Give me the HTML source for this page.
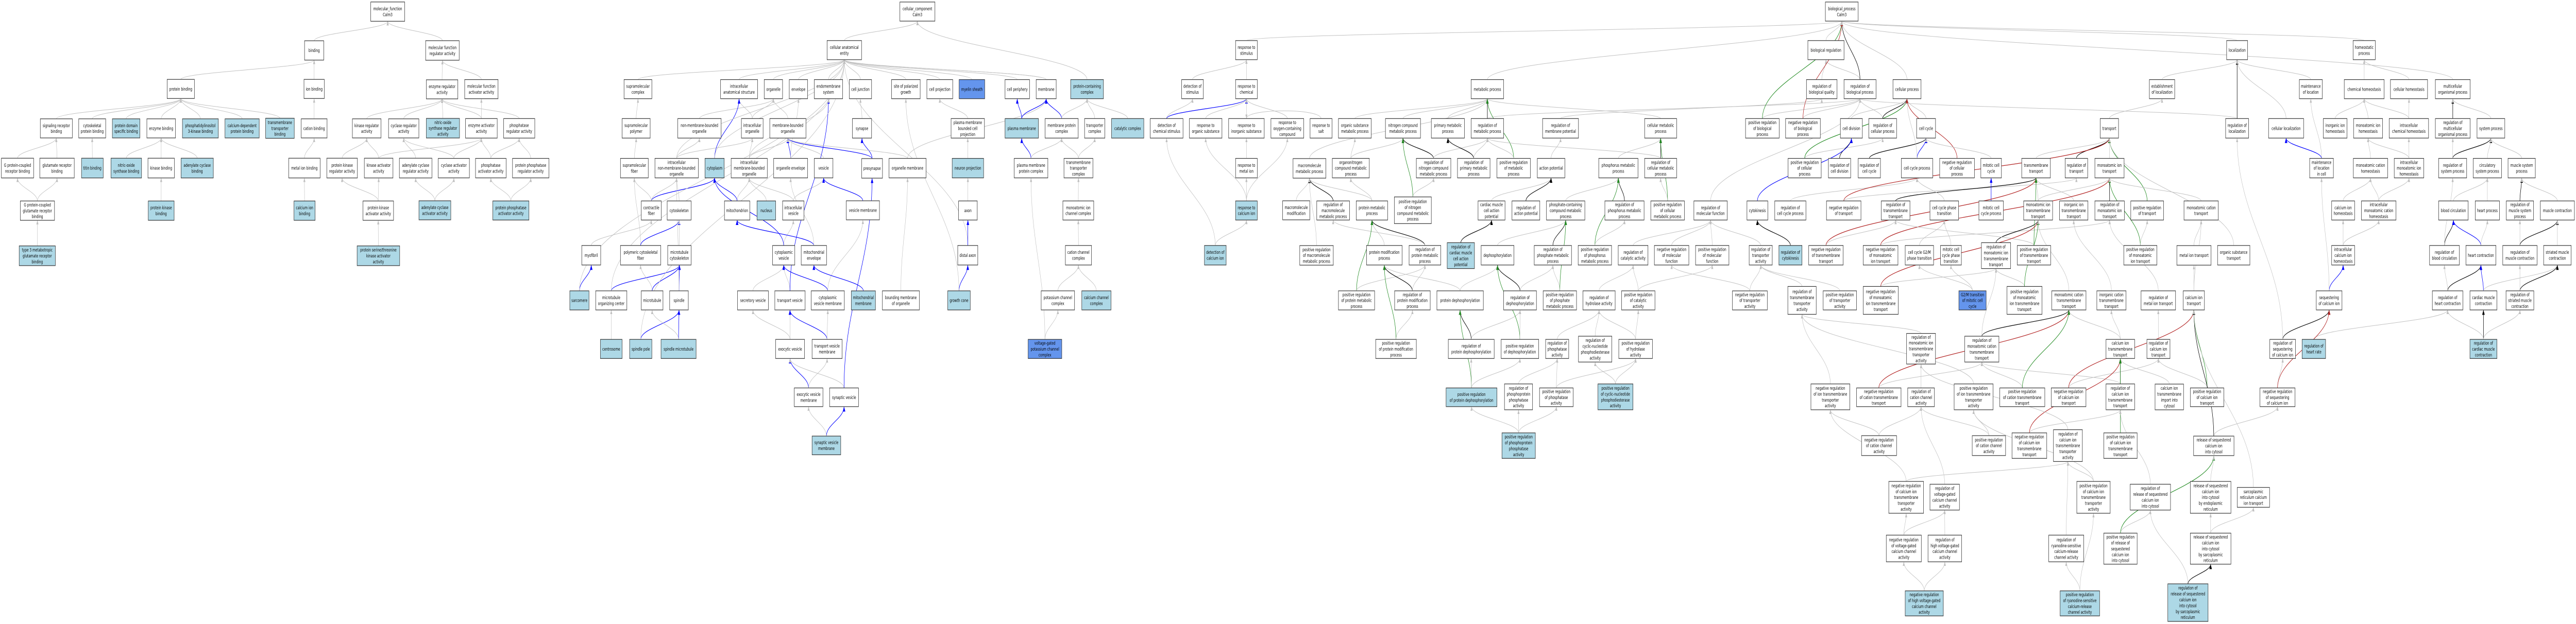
<!DOCTYPE html>
<html><head><meta charset="utf-8"><style>
html,body{margin:0;padding:0;background:#fff;width:100%;height:100%;overflow:hidden}
svg{display:block;width:100vw;height:100vh}
text{font-family:"DejaVu Sans","Liberation Sans",sans-serif;font-size:9px;fill:#000}
</style></head><body>
<svg id="g" xmlns="http://www.w3.org/2000/svg" viewBox="0 0 7680 1212" preserveAspectRatio="none">
<defs>
<marker id="m0" viewBox="0 0 10 10" refX="10" refY="5" markerWidth="8" markerHeight="8" orient="auto-start-reverse"><path d="M0,1L10,5L0,9z" fill="#c0c0c0"/></marker>
<marker id="m1" viewBox="0 0 10 10" refX="10" refY="5" markerWidth="8" markerHeight="8" orient="auto-start-reverse"><path d="M0,1L10,5L0,9z" fill="#0000ff"/></marker>
<marker id="m2" viewBox="0 0 10 10" refX="10" refY="5" markerWidth="8" markerHeight="8" orient="auto-start-reverse"><path d="M0,1L10,5L0,9z" fill="#000"/></marker>
<marker id="m3" viewBox="0 0 10 10" refX="10" refY="5" markerWidth="8" markerHeight="8" orient="auto-start-reverse"><path d="M0,1L10,5L0,9z" fill="#228b22"/></marker>
<marker id="m4" viewBox="0 0 10 10" refX="10" refY="5" markerWidth="8" markerHeight="8" orient="auto-start-reverse"><path d="M0,1L10,5L0,9z" fill="#b22222"/></marker>
</defs>
<g id="E"></g><g id="N"></g>
</svg>
<script>
const Z={0:[0,1,1],1:[0,1.206,2.613],4:[1300,1.206,1.294],5:[2600,1.206,1.294],6:[3900,1.206,1.294],7:[5200,1.206,1.294],8:[6500,1.329,1.294]};
const F={w:'#ffffff',b:'#add8e6',d:'#6495ed'};
const R=[
['MF',1,1333,10,1455,108,'molecular_function|Calm3'],
['binding',1,1095,207,1164,305,'binding'],
['molreg',0,1269,79,1369,117,'molecular function|regulator activity'],
['pb',1,601,403,699,500,'protein binding'],
['ionb',1,1093,403,1166,500,'ion binding'],
['enzreg',0,1271,155,1365,192,'enzyme regulator|activity'],
['srb',1,145,603,260,700,'signaling receptor|binding'],
['cpb',1,283,603,380,700,'cytoskeletal|protein binding'],
['pdsb',1,404,603,503,700,'protein domain|specific binding','b'],
['eb',1,528,603,631,700,'enzyme binding'],
['pi3k',1,656,603,785,700,'phosphatidylinositol|3-kinase binding','b'],
['cdpb',1,809,603,932,700,'calcium-dependent|protein binding','b'],
['ttb',1,955,600,1058,702,'transmembrane|transporter|binding','b'],
['cationb',1,1083,603,1176,700,'cation binding'],
['kra',1,1267,603,1370,700,'kinase regulator|activity'],
['cra',1,1397,603,1506,700,'cyclase regulator|activity'],
['nosra',0,1271,230,1370,268,'nitric-oxide|synthase regulator|activity','b'],
['gpcrb',1,5,803,121,903,'G protein-coupled|receptor binding'],
['glurb',1,143,803,267,903,'glutamate receptor|binding'],
['titin',1,293,803,371,903,'titin binding','b'],
['nosb',1,399,803,509,903,'nitric-oxide|synthase binding','b'],
['kb',1,532,803,627,903,'kinase binding'],
['acb',1,651,803,767,903,'adenylate cyclase|binding','b'],
['mib',1,1038,803,1151,903,'metal ion binding'],
['pkra',1,1175,803,1285,903,'protein kinase|regulator activity'],
['kaa',1,1310,803,1413,903,'kinase activator|activity'],
['acra',1,1436,803,1553,903,'adenylate cyclase|regulator activity'],
['gpcglu',1,73,1020,196,1118,'G protein-coupled|glutamate receptor|binding'],
['pkb',1,533,1020,626,1118,'protein kinase|binding','b'],
['cib',1,1057,1020,1133,1118,'calcium ion|binding','b'],
['pkaa',1,1305,1020,1415,1118,'protein kinase|activator activity'],
['acaa',0,1249,390,1344,427,'adenylate cyclase|activator activity','b'],
['t3',1,69,1248,199,1348,'type 3 metabotropic|glutamate receptor|binding','b'],
['stkaa',1,1284,1248,1437,1348,'protein serine/threonine|kinase activator|activity','b'],
['mfaa',4,103,200,223,248,'molecular function|activator activity'],
['eaa',4,106,298,220,347,'enzyme activator|activity'],
['phra',4,243,298,355,347,'phosphatase|regulator activity'],
['caa',4,8,398,120,447,'cyclase activator|activity'],
['phaa',4,142,398,252,447,'phosphatase|activator activity'],
['ppra',4,275,398,406,447,'protein phosphatase|regulator activity'],
['ppaa',4,204,505,334,553,'protein phosphatase|activator activity','b'],
['CC',5,100,5,226,53,'cellular_component|Calm3'],
['cae',4,1406,102,1530,150,'cellular anatomical|entity'],
['supc',4,676,200,776,248,'supramolecular|complex'],
['ias',4,1023,200,1156,248,'intracellular|anatomical structure'],
['org',4,1180,200,1246,248,'organelle'],
['env',4,1270,200,1336,248,'envelope'],
['ems',4,1360,200,1462,248,'endomembrane|system'],
['cj',4,1486,200,1566,248,'cell junction'],
['spol',4,669,298,770,347,'supramolecular|polymer'],
['nmbo',4,869,298,1025,347,'non-membrane-bounded|organelle'],
['io',4,1098,298,1176,347,'intracellular|organelle'],
['mbo',4,1200,298,1330,347,'membrane-bounded|organelle'],
['syn',4,1497,298,1566,347,'synapse'],
['sfib',4,663,398,763,447,'supramolecular|fiber'],
['inmbo',4,787,398,943,447,'intracellular|non-membrane-bounded|organelle'],
['cyto',4,967,398,1036,447,'cytoplasm','b'],
['imbo',4,1061,398,1191,447,'intracellular|membrane-bounded|organelle'],
['oenv',4,1214,398,1336,447,'organelle envelope'],
['ves',4,1360,398,1427,447,'vesicle'],
['presyn',0,2569,308,2631,346,'presynapse'],
['om',5,61,398,194,447,'organelle membrane'],
['cfib',4,738,505,810,553,'contractile|fiber'],
['csk',4,831,505,917,553,'cytoskeleton'],
['mito',4,1037,505,1128,553,'mitochondrion'],
['nuc',4,1154,505,1221,553,'nucleus','b'],
['ivs',4,1246,505,1323,553,'intracellular|vesicle'],
['vm',0,2523,390,2622,427,'vesicle membrane'],
['myo',4,524,617,592,666,'myofibril'],
['pcf',4,663,617,808,666,'polymeric cytoskeletal|fiber'],
['mtc',4,833,617,917,666,'microtubule|cytoskeleton'],
['cv',4,1210,617,1290,666,'cytoplasmic|vesicle'],
['menv',4,1313,617,1404,666,'mitochondrial|envelope'],
['sarc',4,481,731,550,779,'sarcomere','b'],
['mtoc',4,574,731,686,779,'microtubule|organizing center'],
['mt',4,738,731,816,779,'microtubule'],
['spin',4,840,731,907,779,'spindle'],
['secv',4,1084,731,1195,779,'secretory vesicle'],
['tv',4,1218,731,1327,779,'transport vesicle'],
['cvm',4,1349,731,1468,779,'cytoplasmic|vesicle membrane'],
['mm',0,2538,565,2610,602,'mitochondrial|membrane','b'],
['bmo',5,37,731,170,779,'bounding membrane|of organelle'],
['centr',4,591,853,669,901,'centrosome','b'],
['spp',4,696,853,776,901,'spindle pole','b'],
['smt',4,809,853,935,901,'spindle microtubule','b'],
['exv',4,1221,853,1325,901,'exocytic vesicle'],
['tvm',4,1352,853,1460,901,'transport vesicle|membrane'],
['exvm',4,1288,975,1391,1022,'exocytic vesicle|membrane'],
['sv',4,1415,975,1519,1022,'synaptic vesicle'],
['svm',4,1352,1096,1455,1143,'synaptic vesicle|membrane','b'],
['spg',5,70,200,173,248,'site of polarized|growth'],
['cp',5,197,200,290,248,'cell projection'],
['mye',5,313,200,405,248,'myelin sheath','d'],
['cper',5,478,200,566,248,'cell periphery'],
['mem',5,590,200,662,248,'membrane'],
['pcc',5,714,200,832,248,'protein-containing|complex','b'],
['pmbcp',5,284,298,404,347,'plasma membrane|bounded cell|projection'],
['pm',5,478,298,598,347,'plasma membrane','b'],
['mpc',5,622,298,741,347,'membrane protein|complex'],
['tc',5,764,298,837,347,'transporter|complex'],
['catc',5,861,298,977,347,'catalytic complex','b'],
['np',5,288,398,401,447,'neuron projection','b'],
['pmpc',5,511,398,632,447,'plasma membrane|protein complex'],
['ttc',5,690,398,794,447,'transmembrane|transporter|complex'],
['axon',5,311,505,378,553,'axon'],
['mic',5,686,505,797,553,'monoatomic ion|channel complex'],
['dax',5,308,617,380,666,'distal axon'],
['ccc',5,695,617,789,666,'cation channel|complex'],
['gc',5,272,731,353,779,'growth cone','b'],
['kcc',5,608,731,728,779,'potassium channel|complex'],
['cacc',5,754,731,859,779,'calcium channel|complex','b'],
['vgk',5,561,853,682,901,'voltage-gated|potassium channel|complex','d'],
['rts',5,1307,102,1385,150,'response to|stimulus'],
['dos',5,1113,200,1191,248,'detection of|stimulus'],
['rtc',5,1307,200,1385,248,'response to|chemical'],
['dcs',5,1000,298,1118,347,'detection of|chemical stimulus'],
['ros',5,1141,298,1258,347,'response to|organic substance'],
['ris',5,1282,298,1410,347,'response to|inorganic substance'],
['rox',5,1434,298,1552,347,'response to|oxygen-containing|compound'],
['rmi',5,1307,398,1385,447,'response to|metal ion'],
['mmp',0,3855,308,3953,346,'macromolecule|metabolic process'],
['rci',5,1307,505,1385,553,'response to|calcium ion','b'],
['mmod',0,3824,390,3905,427,'macromolecule|modification'],
['dci',5,1195,617,1273,666,'detection of|calcium ion','b'],
['prmmp',0,3875,477,3975,515,'positive regulation|of macromolecule|metabolic process'],
['metab',6,586,200,703,248,'metabolic process'],
['salt',6,7,298,86,347,'response to|salt'],
['osmp',6,109,298,227,347,'organic substance|metabolic process'],
['ncmp',6,278,298,404,347,'nitrogen compound|metabolic process'],
['pmp',6,443,298,562,347,'primary metabolic|process'],
['rmp',6,586,298,703,347,'regulation of|metabolic process'],
['rmpot',6,843,298,972,347,'regulation of|membrane potential'],
['cmp',6,1210,298,1325,347,'cellular metabolic|process'],
['oncmp',6,87,398,220,447,'organonitrogen|compound metabolic|process'],
['rncmp',6,389,398,513,447,'regulation of|nitrogen compound|metabolic process'],
['rpmp',6,537,398,654,447,'regulation of|primary metabolic|process'],
['prmp',6,679,398,799,447,'positive regulation|of metabolic|process'],
['ap',6,824,398,923,447,'action potential'],
['phmp',6,1045,398,1186,447,'phosphorus metabolic|process'],
['rcmp',6,1210,398,1325,447,'regulation of|cellular metabolic|process'],
['rmmp',6,31,505,149,553,'regulation of|macromolecule|metabolic process'],
['protmp',6,173,505,286,553,'protein metabolic|process'],
['prncmp',6,310,495,443,562,'positive regulation|of nitrogen|compound metabolic|process'],
['camcap',6,611,505,708,553,'cardiac muscle|cell action|potential'],
['rap',6,733,505,833,553,'regulation of|action potential'],
['pcmp',6,857,505,995,553,'phosphate-containing|compound metabolic|process'],
['rphmp',6,1067,505,1208,553,'regulation of|phosphorus metabolic|process'],
['prcmp',6,1232,505,1353,553,'positive regulation|of cellular|metabolic process'],
['rmf',6,1387,505,1507,553,'regulation of|molecular function'],
['pmodp',6,210,617,338,666,'protein modification|process'],
['rprotmp',6,363,617,477,666,'regulation of|protein metabolic|process'],
['rcmcap',6,500,610,598,675,'regulation of|cardiac muscle|cell action|potential','b'],
['dephos',6,622,617,740,666,'dephosphorylation'],
['rphamp',6,813,617,947,666,'regulation of|phosphate metabolic|process'],
['prphmp',6,971,617,1091,666,'positive regulation|of phosphorus|metabolic process'],
['rca',6,1115,617,1222,666,'regulation of|catalytic activity'],
['nrmf',6,1245,617,1369,666,'negative regulation|of molecular|function'],
['prmf',6,1393,617,1513,666,'positive regulation|of molecular|function'],
['prprotmp',6,109,731,239,779,'positive regulation|of protein metabolic|process'],
['rpmod',6,311,731,439,779,'regulation of|protein modification|process'],
['pdeph',6,463,731,630,779,'protein dephosphorylation'],
['rdeph',6,703,731,821,779,'regulation of|dephosphorylation'],
['prphamp',6,845,731,965,779,'positive regulation|of phosphate|metabolic process'],
['rha',6,988,731,1104,779,'regulation of|hydrolase activity'],
['prca',6,1127,731,1247,779,'positive regulation|of catalytic|activity'],
['nrta',0,5165,565,5269,602,'negative regulation|of transporter|activity'],
['prpmod',6,243,853,389,901,'positive regulation|of protein modification|process'],
['rpdeph',6,504,853,669,901,'regulation of|protein dephosphorylation'],
['prdeph',6,694,853,829,901,'positive regulation|of dephosphorylation'],
['rpa',6,854,853,937,901,'regulation of|phosphatase|activity'],
['rcnp',6,972,845,1092,910,'regulation of|cyclic-nucleotide|phosphodiesterase|activity'],
['prha',6,1117,853,1238,901,'positive regulation|of hydrolase|activity'],
['prpdeph',6,496,975,679,1022,'positive regulation|of protein dephosphorylation','b'],
['rppa',6,706,965,807,1030,'regulation of|phosphoprotein|phosphatase|activity'],
['prpa',6,832,975,953,1022,'positive regulation|of phosphatase|activity'],
['prcnp',6,1042,965,1168,1030,'positive regulation|of cyclic-nucleotide|phosphodiesterase|activity','b'],
['prppa',6,697,1088,817,1152,'positive regulation|of phosphoprotein|phosphatase|activity','b'],
['BP',7,292,5,410,53,'biological_process|Calm3'],
['breg',7,229,102,359,150,'biological regulation'],
['rbq',7,224,200,334,248,'regulation of|biological quality'],
['rbp',7,359,200,474,248,'regulation of|biological process'],
['cproc',7,535,200,636,248,'cellular process'],
['eloc',7,1457,200,1548,248,'establishment|of localization'],
['prbp',7,5,298,126,347,'positive regulation|of biological|process'],
['nrbp',7,149,298,274,347,'negative regulation|of biological|process'],
['cdiv',7,346,298,425,347,'cell division'],
['rcp',7,448,298,548,347,'regulation of|cellular process'],
['cc',7,620,298,688,347,'cell cycle'],
['trans',7,1280,298,1346,347,'transport'],
['prcp',7,158,398,277,447,'positive regulation|of cellular|process'],
['rcdiv',7,303,398,383,447,'regulation of|cell division'],
['rcc',7,410,398,490,447,'regulation of|cell cycle'],
['ccp',7,565,398,678,447,'cell cycle process'],
['nrcp',7,703,398,828,447,'negative regulation|of cellular|process'],
['mcc',7,851,398,925,447,'mitotic cell|cycle'],
['tmt',7,998,398,1101,447,'transmembrane|transport'],
['rtr',7,1154,398,1235,447,'regulation of|transport'],
['mit',7,1261,398,1366,447,'monoatomic ion|transport'],
['cytok',7,10,505,85,553,'cytokinesis'],
['rccp',7,110,505,222,553,'regulation of|cell cycle process'],
['nrt',7,296,505,420,553,'negative regulation|of transport'],
['rtmt',7,493,505,596,553,'regulation of|transmembrane|transport'],
['cpt',7,668,505,771,553,'cell cycle phase|transition'],
['mccp',7,844,505,932,553,'mitotic cell|cycle process'],
['mitt',7,1005,505,1109,553,'monoatomic ion|transmembrane|transport'],
['iitt',7,1134,505,1236,553,'inorganic ion|transmembrane|transport'],
['rmit',7,1261,505,1367,553,'regulation of|monoatomic ion|transport'],
['prt',7,1390,505,1508,553,'positive regulation|of transport'],
['rta',7,18,617,101,666,'regulation of|transporter|activity'],
['rcyt',7,125,617,208,666,'regulation of|cytokinesis','b'],
['nrtmt',7,232,617,356,666,'negative regulation|of transmembrane|transport'],
['nrmit',7,428,617,553,666,'negative regulation|of monoatomic|ion transport'],
['g2m',7,579,617,681,666,'cell cycle G2/M|phase transition'],
['mccpt',7,706,617,781,666,'mitotic cell|cycle phase|transition'],
['rmitt',7,853,610,958,675,'regulation of|monoatomic ion|transmembrane|transport'],
['prtmt',7,982,617,1102,666,'positive regulation|of transmembrane|transport'],
['prmit',7,1365,617,1484,666,'positive regulation|of monoatomic|ion transport'],
['metal',0,6490,477,6592,515,'metal ion transport'],
['rtta',7,157,720,259,790,'regulation of|transmembrane|transporter|activity'],
['prta',7,284,731,404,779,'positive regulation|of transporter|activity'],
['nrmitt',7,428,720,554,790,'negative regulation|of monoatomic|ion transmembrane|transport'],
['g2mt',7,772,731,870,779,'G2/M transition|of mitotic cell|cycle','d'],
['prmitt',7,945,720,1071,790,'positive regulation|of monoatomic|ion transmembrane|transport'],
['mctt',7,1106,731,1229,779,'monoatomic cation|transmembrane|transport'],
['ictt',7,1268,731,1373,779,'inorganic cation|transmembrane|transport'],
['rmetal',7,1427,731,1551,779,'regulation of|metal ion transport'],
['rmittta',7,584,838,688,915,'regulation of|monoatomic ion|transmembrane|transporter|activity'],
['rmctt',7,793,845,916,910,'regulation of|monoatomic cation|transmembrane|transport'],
['catt',7,1301,853,1404,901,'calcium ion|transmembrane|transport'],
['rcait',7,1448,853,1531,901,'regulation of|calcium ion|transport'],
['nritta',7,240,965,380,1030,'negative regulation|of ion transmembrane|transporter|activity'],
['nrctt',7,404,975,564,1022,'negative regulation|of cation transmembrane|transport'],
['rcca',7,588,975,684,1022,'regulation of|cation channel|activity'],
['pritta',7,755,965,895,1030,'positive regulation|of ion transmembrane|transporter|activity'],
['prctt',7,919,975,1081,1022,'positive regulation|of cation transmembrane|transport'],
['nrcat',7,1104,975,1229,1022,'negative regulation|of calcium ion|transport'],
['rcatt',7,1301,965,1404,1030,'regulation of|calcium ion|transmembrane|transport'],
['catic',0,6425,746,6510,796,'calcium ion|transmembrane|import into|cytosol'],
['nrcca',7,422,1095,548,1145,'negative regulation|of cation channel|activity'],
['prcca',7,820,1095,940,1145,'positive regulation|of cation channel|activity'],
['nrcatt',7,963,1088,1088,1152,'negative regulation|of calcium ion|transmembrane|transport'],
['rcatta',7,1112,1080,1216,1160,'regulation of|calcium ion|transmembrane|transporter|activity'],
['prcatt',7,1293,1088,1413,1152,'positive regulation|of calcium ion|transmembrane|transport'],
['nrcatta',7,520,1210,645,1290,'negative regulation|of calcium ion|transmembrane|transporter|activity'],
['rvgcc',7,668,1217,774,1282,'regulation of|voltage-gated|calcium channel|activity'],
['prcatta',7,1196,1210,1316,1290,'positive regulation|of calcium ion|transmembrane|transporter|activity'],
['rrsci',7,1388,1217,1533,1282,'regulation of|release of sequestered|calcium ion|into cytosol'],
['nrvgcc',7,511,1345,637,1412,'negative regulation|of voltage-gated|calcium channel|activity'],
['rhvgcc',7,661,1345,782,1412,'regulation of|high voltage-gated|calcium channel|activity'],
['rrsc',7,1095,1345,1221,1412,'regulation of|ryanodine-sensitive|calcium-release|channel activity'],
['prrsci',7,1293,1340,1413,1418,'positive regulation|of release of|sequestered|calcium ion|into cytosol'],
['nrhv',7,579,1485,716,1548,'negative regulation|of high voltage-gated|calcium channel|activity','b'],
['prrsc',7,1136,1485,1278,1548,'positive regulation|of ryanodine-sensitive|calcium-release|channel activity','b'],
['rrscisr',0,6463,1134,6583,1207,'regulation of|release of sequestered|calcium ion|into cytosol|by sarcoplasmic|reticulum','b'],
['loc',8,184,102,267,150,'localization'],
['hp',8,685,102,773,150,'homeostatic|process'],
['mloc',8,472,200,563,248,'maintenance|of location'],
['chh',8,650,200,808,248,'chemical homeostasis'],
['cellh',8,833,200,980,248,'cellular homeostasis'],
['mop',8,1011,200,1149,248,'multicellular|organismal process'],
['rloc',8,180,298,271,347,'regulation of|localization'],
['cloc',8,350,298,489,347,'cellular localization'],
['iih',8,567,298,661,347,'inorganic ion|homeostasis'],
['mih',8,687,298,802,347,'monoatomic ion|homeostasis'],
['ich',8,828,298,984,347,'intracellular|chemical homeostasis'],
['rmop',8,1011,298,1149,347,'regulation of|multicellular|organismal process'],
['sysp',8,1176,298,1286,347,'system process'],
['mlic',8,513,398,607,447,'maintenance|of location|in cell'],
['mch',8,686,398,822,447,'monoatomic cation|homeostasis'],
['imih',8,848,398,965,447,'intracellular|monoatomic ion|homeostasis'],
['rsp',8,1024,398,1135,447,'regulation of|system process'],
['csp',8,1161,398,1273,447,'circulatory|system process'],
['msp',8,1299,398,1407,447,'muscle system|process'],
['mct',8,15,505,151,553,'monoatomic cation|transport'],
['cih',8,600,505,691,553,'calcium ion|homeostasis'],
['imch',8,718,505,855,553,'intracellular|monoatomic cation|homeostasis'],
['bc',8,1024,505,1141,553,'blood circulation'],
['hpr',8,1169,505,1265,553,'heart process'],
['rmsp',8,1292,505,1400,553,'regulation of|muscle system|process'],
['mc',8,1427,505,1562,553,'muscle contraction'],
['ost',8,148,617,276,666,'organic substance|transport'],
['icih',8,600,617,691,666,'intracellular|calcium ion|homeostasis'],
['rbc',8,988,617,1106,666,'regulation of|blood circulation'],
['hc',8,1132,617,1251,666,'heart contraction'],
['rmc',8,1278,617,1414,666,'regulation of|muscle contraction'],
['smc',8,1440,617,1549,666,'striated muscle|contraction'],
['cait',8,12,731,96,779,'calcium ion|transport'],
['seq',8,539,731,641,779,'sequestering|of calcium ion'],
['rhc',8,999,731,1120,779,'regulation of|heart contraction'],
['cmc',8,1148,731,1255,779,'cardiac muscle|contraction'],
['rsmc',8,1291,731,1401,779,'regulation of|striated muscle|contraction'],
['rseq',8,355,853,457,901,'regulation of|sequestering|of calcium ion'],
['rhr',8,483,853,576,901,'regulation of|heart rate','b'],
['rcmc',8,1148,853,1255,901,'regulation of|cardiac muscle|contraction','b'],
['prcat',8,40,975,173,1022,'positive regulation|of calcium ion|transport'],
['nrseq',8,316,975,455,1022,'negative regulation|of sequestering|of calcium ion'],
['rsci',8,53,1096,213,1145,'release of sequestered|calcium ion|into cytosol'],
['rsciER',8,40,1210,201,1290,'release of sequestered|calcium ion|into cytosol|by endoplasmic|reticulum'],
['srcit',8,226,1225,354,1275,'sarcoplasmic|reticulum calcium|ion transport'],
['rsciSR',8,40,1340,201,1418,'release of sequestered|calcium ion|into cytosol|by sarcoplasmic|reticulum']
];
const nodes={};
for(const r of R){const t=Z[r[1]];const x1=t[0]+r[2]/t[1],x2=t[0]+r[4]/t[1],y1=r[3]/t[2],y2=r[5]/t[2];
nodes[r[0]]={x1,x2,y1,y2,cx:(x1+x2)/2,label:r[6],fill:F[r[7]||'w']};}
const C={g:['#c0c0c0','m0'],b:['#0000ff','m1'],k:['#000','m2'],G:['#228b22','m3'],r:['#b22222','m4']};
const ES=`binding>MF molreg>MF pb>binding ionb>binding srb>pb cpb>pb pdsb>pb eb>pb pi3k>pb cdpb>pb ttb>pb cationb>ionb gpcrb>srb glurb>srb titin>cpb nosb>eb kb>eb acb>eb mib>cationb gpcglu>gpcrb gpcglu>glurb t3>gpcglu pkb>kb cib>mib kra>enzreg cra>enzreg nosra>enzreg enzreg>molreg mfaa>molreg pkra>kra kaa>kra acra>cra pkaa>pkra pkaa>kaa stkaa>pkaa acaa>acra eaa>enzreg eaa>mfaa phra>enzreg caa>cra caa>eaa phaa>eaa phaa>phra ppra>phra ppaa>phaa ppaa>ppra acaa>caa kaa>eaa
cae>CC pcc>CC supc>cae ias>cae org>cae env>cae ems>cae cj>cae spg>cae cp>cae mye>cae cper>cae mem>cae spol>supc nmbo>org io>ias io>org mbo>org syn>cj sfib>spol inmbo>nmbo inmbo>io cyto>ias:b imbo>io imbo>mbo oenv>mbo:b oenv>env ves>mbo cfib>sfib cfib>cyto:b cfib>inmbo csk>inmbo mito>imbo mito>cyto:b nuc>imbo ivs>imbo ivs>ves vm>ves:b myo>cfib pcf>sfib pcf>csk:b mtc>csk cv>ivs cv>cyto:b menv>mito:b menv>oenv sarc>myo:b mtoc>mtc:b mt>pcf mt>mtc:b spin>mtc:b spin>inmbo secv>cv tv>cv cvm>cv:b cvm>vm mm>menv:b centr>mtoc spp>spin:b smt>spin:b smt>mt exv>secv exv>tv tvm>tv:b tvm>cvm exvm>exv:b exvm>tvm sv>exv svm>sv:b svm>exvm tv>ems:b presyn>syn:b presyn>mbo:b om>mbo om>mem bmo>om sv>presyn:b sarc>cae mtoc>cae spp>cae dax>cae inmbo>cae cyto>cae imbo>ems
pmbcp>cp pm>mem:b pm>cper:b mpc>mem:b mpc>pcc tc>pcc catc>pcc np>pmbcp pmpc>pm:b pmpc>mpc ttc>mpc ttc>tc axon>np mic>ttc dax>axon:b ccc>mic gc>dax:b gc>spg kcc>ccc cacc>ccc vgk>kcc vgk>pmpc mem>cae
rts>BP dos>rts rtc>rts dcs>dos dcs>rtc:b ros>rtc ris>rtc rox>rtc rmi>ris rci>rmi rci>ros rci>rox dci>dcs dci>rci mmp>metab mmod>mmp prmmp>mmp
metab>BP salt>ris osmp>metab ncmp>metab pmp>metab rmp>metab:k rmp>rbp cmp>metab rmpot>rbq oncmp>osmp oncmp>ncmp rncmp>ncmp:k rncmp>rmp rpmp>pmp:k rpmp>rmp prmp>metab:G prmp>rmp ap>rmpot phmp>cmp rcmp>cmp:k rcmp>rmp rmmp>mmp:k protmp>oncmp protmp>mmp prncmp>ncmp:G prncmp>rncmp camcap>ap rap>ap:k pcmp>phmp rphmp>phmp:k prcmp>cmp:G prcmp>rcmp rmf>rbp pmodp>protmp rprotmp>protmp:k rprotmp>rmmp rcmcap>camcap:k dephos>pcmp rphamp>pcmp:k prphmp>phmp:G prphmp>rphmp rca>rmf nrmf>rmf prmf>rmf prprotmp>protmp:G prprotmp>rprotmp rpmod>pmodp:k rpmod>rprotmp pdeph>dephos pdeph>pmodp rdeph>dephos:k rdeph>rphamp prphamp>pcmp:G prphamp>rphamp rha>rca prca>rca prca>prmf prpmod>pmodp:G prpmod>rpmod rpdeph>pdeph:k rpdeph>rdeph prdeph>dephos:G prdeph>rdeph rpa>rha rcnp>rha prha>rha prha>prca prpdeph>pdeph:G prpdeph>rpdeph prpdeph>prdeph rppa>rpa prpa>rpa prpa>prha prcnp>rcnp prcnp>prha prppa>prpdeph prppa>rppa prppa>prpa nrta>rta nrta>nrmf
breg>BP rbq>breg rbp>breg rbp>BP:k cproc>BP eloc>loc prbp>rbp prbp>BP:G nrbp>rbp nrbp>BP:r cdiv>cproc rcp>rbp rcp>cproc:k cc>cproc trans>eloc prcp>rcp prcp>cproc:G rcdiv>cdiv:k rcc>cc:k ccp>cc:b ccp>cproc nrcp>cproc:r mcc>cc tmt>trans rtr>trans:k mit>trans cytok>cdiv:b rccp>ccp nrt>rtr nrt>trans:r rtmt>tmt:k cpt>ccp mccp>mcc:b mitt>tmt mitt>mit iitt>tmt rmit>mit:k prt>trans:G rta>rmf rcyt>cytok:k nrtmt>rtmt nrtmt>tmt:r nrmit>rmit nrmit>mit:r g2m>cpt mccpt>cpt rmitt>mitt:k prtmt>rtmt prtmt>tmt:G prmit>mit:G prmit>prt rtta>rta prta>rta nrmitt>rmitt nrmitt>mitt:r g2mt>g2m g2mt>mccpt prmitt>rmitt prmitt>mitt:G mctt>mitt ictt>iitt rmetal>rmit rmittta>rtta rmctt>rmitt rmctt>mctt:k catt>mctt catt>ictt rcait>rmetal nritta>rtta nrctt>rmctt nrctt>mctt:r rcca>rmittta pritta>rtta prctt>rmctt prctt>mctt:G nrcat>rcait nrcat>cait:r rcatt>catt:k rcatt>rmctt catic>catt nrcca>rcca nrcca>nritta prcca>rcca prcca>pritta nrcatt>rcatt nrcatt>catt:r rcatta>rmittta prcatt>rcatt prcatt>catt:G nrcatta>rcatta nrcatta>nritta rvgcc>rcca prcatta>rcatta prcatta>pritta rrsci>rcatt nrvgcc>rvgcc nrvgcc>nrcatta rhvgcc>rvgcc rrsc>rcatta prrsci>rrsci prrsci>rsci:G nrhv>nrvgcc nrhv>rhvgcc prrsc>rrsc prrsc>prcatta rrscisr>rrsci rrscisr>rsciSR:k
loc>BP hp>BP mloc>loc chh>hp cellh>hp mop>BP rloc>loc:k rloc>rbp cloc>loc iih>chh mih>chh ich>chh ich>cellh rmop>mop:k sysp>mop mlic>mloc mlic>cloc:b mch>mih imih>ich imih>mih rsp>sysp:k rsp>rmop csp>sysp msp>sysp mct>mit cih>mch imch>mch imch>imih bc>csp hpr>csp rmsp>msp:k mc>msp ost>trans icih>cih icih>imch rbc>bc:k rbc>rsp hc>bc:b hc>hpr rmc>mc:k rmc>rmsp smc>mc cait>mct cait>metal seq>icih:b seq>mlic rhc>hc:k rhc>rbc cmc>hc:b cmc>smc rsmc>smc:k rsmc>rmc rseq>seq:k rseq>rloc rhr>rhc rcmc>cmc:k rcmc>rhc rcmc>rsmc prcat>cait:G prcat>rcait nrseq>rseq nrseq>seq:r rsci>nrseq rsci>cait:k rsciER>rsci srcit>cait rsciSR>rsciER rsciSR>srcit metal>mct`;
const NS='http://www.w3.org/2000/svg';
const E=document.getElementById('E'),Ng=document.getElementById('N');
for(const tok of ES.split(/\s+/)){if(!tok)continue;let [p,c]=tok.split(':');c=c||'g';const [a,b]=p.split('>');const A=nodes[a],B=nodes[b];if(!A||!B)continue;
const x1=A.cx,y1=A.y1,x2=B.cx,y2=B.y2;let d;
if(y1>y2+5){const dy=(y1-y2)*0.4;d=`M${x1},${y1}C${x1},${y1-dy} ${x2},${y2+dy} ${x2},${y2}`;}
else{const yy=Math.min(y1,B.y1)-20;d=`M${x1},${y1}C${x1},${yy} ${x2},${yy} ${x2},${B.y1}`;}
const pa=document.createElementNS(NS,'path');pa.setAttribute('d',d);pa.setAttribute('fill','none');pa.setAttribute('stroke',C[c][0]);pa.setAttribute('stroke-width',c==='g'?1:1.2);pa.setAttribute('marker-end',`url(#${C[c][1]})`);E.appendChild(pa);}
for(const k in nodes){const n=nodes[k];const r=document.createElementNS(NS,'rect');
r.setAttribute('x',n.x1.toFixed(1));r.setAttribute('y',n.y1.toFixed(1));r.setAttribute('width',(n.x2-n.x1).toFixed(1));r.setAttribute('height',(n.y2-n.y1).toFixed(1));
r.setAttribute('fill',n.fill);r.setAttribute('stroke','#333');r.setAttribute('stroke-width','1.2');Ng.appendChild(r);
const lines=n.label.split('|');const lh=11.4;const cy=(n.y1+n.y2)/2;const t=document.createElementNS(NS,'text');t.setAttribute('text-anchor','middle');
lines.forEach((l,i)=>{const s=document.createElementNS(NS,'tspan');s.setAttribute('x',n.cx.toFixed(1));s.setAttribute('y',(cy+(i-(lines.length-1)/2)*lh+3.2).toFixed(1));s.textContent=l;t.appendChild(s);});
Ng.appendChild(t);}
</script>
</body></html>
